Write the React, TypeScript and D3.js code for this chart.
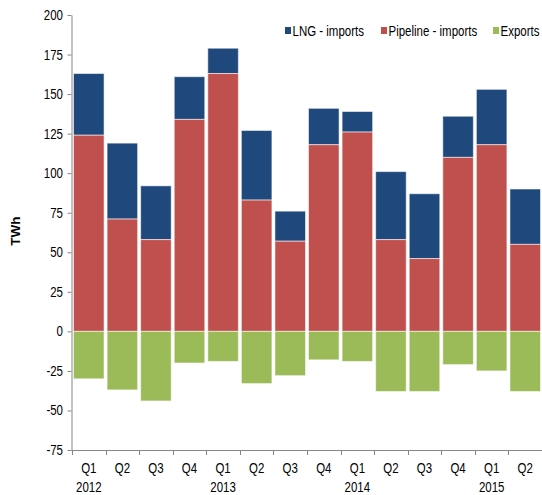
import React, { useEffect, useRef } from "react";
import * as d3 from "d3";

const quarters = ["Q1", "Q2", "Q3", "Q4", "Q1", "Q2", "Q3", "Q4", "Q1", "Q2", "Q3", "Q4", "Q1", "Q2"];
const years = ["2012", "", "", "", "2013", "", "", "", "2014", "", "", "", "2015", ""];
const pipeline = [124, 71, 58, 134, 163, 83, 57, 118, 126, 58, 46, 110, 118, 55];
const lng = [39, 48, 34, 27, 16, 44, 19, 23, 13, 43, 41, 26, 35, 35];
const exportsV = [-30, -37, -44, -20, -19, -33, -28, -18, -19, -38, -38, -21, -25, -38];
const yTicks = [200, 175, 150, 125, 100, 75, 50, 25, 0, -25, -50, -75];
const seriesNames = ["LNG - imports", "Pipeline - imports", "Exports"];
const seriesColors = ["#1F497D", "#C0504D", "#9BBB59"];

export default function App() {
  const ref = useRef<SVGSVGElement>(null);
  useEffect(() => {
    const svg = d3.select(ref.current);
    svg.selectAll("*").remove();
    const font = "'Liberation Sans', Arial, sans-serif";
    const sx = 0.82;
    const narrowText = (x: number, y: number, txt: string, anchor: string) =>
      svg.append("text").attr("transform", `translate(${x},${y}) scale(${sx},1)`)
        .attr("text-anchor", anchor).attr("font-family", font).attr("font-size", 14)
        .attr("fill", "#000").text(txt);

    const idx = quarters.map((_, i) => i);
    const x = d3.scaleBand<number>().domain(idx).range([72, 542]).paddingInner(0.09).paddingOuter(0.045);
    const y = d3.scaleLinear().domain([-75, 200]).range([450, 15]);

    const g = svg.append("g");
    const stroke = "rgba(255,255,255,0.55)";
    idx.forEach((i) => {
      const bx = x(i)!;
      const bw = x.bandwidth();
      g.append("rect").attr("x", bx).attr("width", bw)
        .attr("y", y(pipeline[i] + lng[i])).attr("height", y(pipeline[i]) - y(pipeline[i] + lng[i]))
        .attr("fill", seriesColors[0]).attr("stroke", stroke).attr("stroke-width", 1);
      g.append("rect").attr("x", bx).attr("width", bw)
        .attr("y", y(pipeline[i])).attr("height", y(0) - y(pipeline[i]))
        .attr("fill", seriesColors[1]).attr("stroke", stroke).attr("stroke-width", 1);
      g.append("rect").attr("x", bx).attr("width", bw)
        .attr("y", y(0)).attr("height", y(exportsV[i]) - y(0))
        .attr("fill", seriesColors[2]).attr("stroke", stroke).attr("stroke-width", 1);
    });

    // y axis
    const yAxis = svg.append("g").attr("transform", "translate(71.5,0)")
      .call(d3.axisLeft(y).tickValues(yTicks).tickSize(4).tickSizeOuter(0).tickFormat(() => ""));
    yAxis.select(".domain").attr("stroke", "#868686");
    yAxis.selectAll(".tick line").attr("stroke", "#868686");
    yTicks.forEach((t) => narrowText(63, y(t) + 5, String(t), "end"));

    // x axis
    const step = x.step();
    const start = 72;
    svg.append("line").attr("x1", 71.5).attr("x2", 542).attr("y1", 450.5).attr("y2", 450.5).attr("stroke", "#868686");
    d3.range(0, 15).forEach((k) => {
      const tx = Math.round(start + k * step) + 0.5;
      svg.append("line").attr("x1", tx).attr("x2", tx).attr("y1", 450).attr("y2", 455).attr("stroke", "#868686");
    });
    idx.forEach((i) => {
      const cx = x(i)! + x.bandwidth() / 2;
      narrowText(cx, 473, quarters[i], "middle");
      if (years[i]) narrowText(cx, 492, years[i], "middle");
    });

    // y label
    svg.append("text").attr("transform", "translate(20,231) rotate(-90)").attr("text-anchor", "middle")
      .attr("font-family", font).attr("font-size", 13.5).attr("font-weight", "bold").text("TWh");

    // legend
    const lx = [285, 381, 493];
    seriesNames.forEach((name, i) => {
      svg.append("rect").attr("x", lx[i]).attr("y", 27).attr("width", 6).attr("height", 7).attr("fill", seriesColors[i]);
      narrowText(lx[i] + 7.5, 36, name, "start");
    });
  }, []);
  return (
    <svg ref={ref} width={542} height={495} style={{ position: "absolute", left: 0, top: 0, background: "#fff" }} />
  );
}
